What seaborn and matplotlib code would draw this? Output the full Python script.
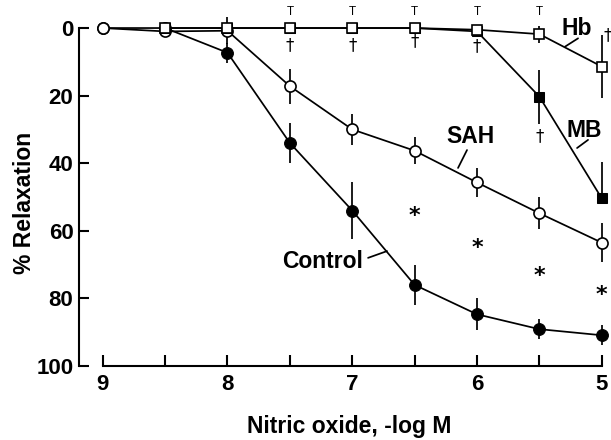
import numpy as np
import pandas as pd
import matplotlib
matplotlib.use("Agg")
import matplotlib.pyplot as plt
import seaborn as sns

# ---- data ----
conc = [9, 8.5, 8, 7.5, 7, 6.5, 6, 5.5, 5]
control = [0, 0, 7.3, 34, 54, 76, 84.7, 89.1, 90.9]
control_err = [0, 0, 3, 6, 8.3, 6, 4.7, 3, 3]
sah = [0, 1, 0.8, 17.2, 30, 36.3, 45.7, 54.8, 63.5]
sah_err = [0, 0, 4, 5.2, 4.7, 4, 4.3, 4.7, 5.7]

conc_b = [8.5, 8, 7.5, 7, 6.5, 6, 5.5, 5]
mb = [0, 0, 0, 0, 0, 1, 20.3, 50.4]
mb_err_lo = [0, 0, 0, 0, 0, 0, 8, 10.7]
mb_err_hi = [0, 0, 0, 0, 0, 0, 8, 0]
hb = [0, 0, 0, 0, 0, 0.5, 1.8, 11.4]
hb_err = [0, 0, 0, 0, 0, 0, 2.5, 9.3]

star_x = [6.5, 6, 5.5, 5]
star_y = [55.5, 65, 73.4, 79]
tee_x = [7.5, 7, 6.5, 6, 5.5]
tee_y = [-4.7, -4.7, -4.7, -4.7, -4.7]
dagger_x = [7.5, 7, 6.5, 6, 5.5, 4.955]
dagger_y = [5, 5, 4, 5.5, 32, 2]

xticks = [9, 8, 7, 6, 5]
yticks = [0, 20, 40, 60, 80, 100]

sns.set_theme(style="ticks")
plt.rcParams['font.family'] = ['Liberation Sans', 'DejaVu Sans']
plt.rcParams['font.weight'] = 'bold'
plt.rcParams['text.color'] = 'black'
plt.rcParams['axes.labelcolor'] = 'black'

fig = plt.figure(figsize=(6.11, 4.40), dpi=100)
ax = fig.add_axes([79/611, 1-366/440, (608-79)/611, 365/440])

df = pd.concat([
    pd.DataFrame({"x": conc, "y": control, "s": "Control"}),
    pd.DataFrame({"x": conc, "y": sah, "s": "SAH"}),
    pd.DataFrame({"x": conc_b, "y": mb, "s": "MB"}),
    pd.DataFrame({"x": conc_b, "y": hb, "s": "Hb"}),
])

lw = 1.25
ax.errorbar(conc, control, yerr=control_err, fmt='none', ecolor='black', elinewidth=lw, capsize=0, zorder=2)
ax.errorbar(conc, sah, yerr=sah_err, fmt='none', ecolor='black', elinewidth=lw, capsize=0, zorder=2)
ax.errorbar(conc_b, mb, yerr=[mb_err_lo, mb_err_hi], fmt='none', ecolor='black', elinewidth=lw, capsize=0, zorder=2)
ax.errorbar(conc_b, hb, yerr=hb_err, fmt='none', ecolor='black', elinewidth=lw, capsize=0, zorder=2)

styles = {
    "Control": dict(marker='o', ms=8.5, mfc='black', mec='black'),
    "SAH": dict(marker='o', ms=8, mfc='white', mec='black', mew=1.2),
    "MB": dict(marker='s', ms=6.5, mfc='black', mec='black'),
    "Hb": dict(marker='s', ms=6.5, mfc='white', mec='black', mew=1.2),
}
for name in ["Control", "SAH", "MB", "Hb"]:
    sub = df[df.s == name]
    sns.lineplot(data=sub, x="x", y="y", ax=ax, color='black', lw=lw,
                 estimator=None, sort=False, zorder=3, **styles[name])

ax.set_xlim(9.19, 4.95)
ax.set_ylim(100, -8)
ax.set_xticks(xticks)
ax.set_xticks([8.5, 7.5, 6.5, 5.5], minor=True)
ax.set_yticks(yticks)
ax.tick_params(axis='x', which='both', direction='in', length=8, width=1.5, pad=6,
               labelsize=16, colors='black')
ax.tick_params(axis='y', direction='in', length=7, width=1.5, pad=4, labelsize=16, colors='black')
for lab in ax.get_xticklabels() + ax.get_yticklabels():
    lab.set_fontweight('bold')
for s in ['top', 'right']:
    ax.spines[s].set_visible(False)
for s in ['left', 'bottom']:
    ax.spines[s].set_linewidth(1.5)
    ax.spines[s].set_color('black')
ax.spines['bottom'].set_bounds(9, 5)
ax.spines['left'].set_bounds(0, 100)

ax.set_xlabel("Nitric oxide, -log M", fontsize=16.5, fontweight='bold')
ax.set_ylabel("% Relaxation", fontsize=16.5, fontweight='bold')
ax.xaxis.set_label_coords((349-79)/529, (366-426)/365)
ax.xaxis.label.set_va('center')
ax.yaxis.set_label_coords((25-79)/529, (366-203)/365)
ax.yaxis.label.set_va('center')

# annotations
for x, y in zip(star_x, star_y):
    ax.text(x, y, "*", fontsize=16, ha='center', va='center', fontweight='bold',
            family='DejaVu Sans', clip_on=False)
for x, y in zip(tee_x, tee_y):
    ax.text(x, y, "T", fontsize=8.5, ha='center', va='center', fontweight='normal', clip_on=False)
for x, y in zip(dagger_x, dagger_y):
    ax.text(x, y, "\u2020", fontsize=12, ha='center', va='center', fontweight='normal',
            family='DejaVu Sans', clip_on=False)

lab_kw = dict(fontsize=16.5, fontweight='bold', ha='center', va='center')
ax.text(5.198, 0, "Hb", **lab_kw)
ax.plot([5.294, 5.19], [5.5, 3.05], color='black', lw=lw)
ax.text(5.142, 30.2, "MB", **lab_kw)
ax.plot([5.198, 5.11], [35.5, 33.1], color='black', lw=lw)
ax.text(6.056, 32.2, "SAH", **lab_kw)
ax.plot([6.152, 6.08], [41.4, 36.1], color='black', lw=lw)
ax.text(7.234, 69.2, "Control", **lab_kw)
ax.plot([6.873, 6.721], [68, 66], color='black', lw=lw)

fig.savefig("out.png", dpi=100)
